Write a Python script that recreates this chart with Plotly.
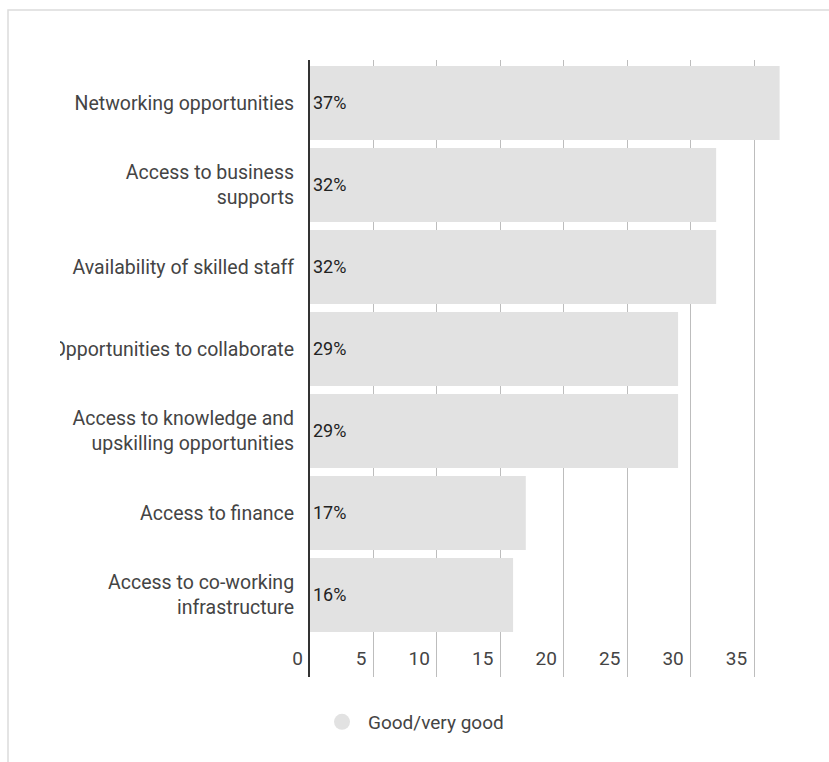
import plotly.graph_objects as go

# Share of respondents rating each factor as good / very good
categories = [
    "Networking opportunities",
    "Access to business<br>supports",
    "Availability of skilled staff",
    "Opportunities to collaborate",
    "Access to knowledge and<br>upskilling opportunities",
    "Access to finance",
    "Access to co-working<br>infrastructure",
]
values = [37, 32, 32, 29, 29, 17, 16]
value_labels = [f"{v}%" for v in values]
series_name = "Good/very good"
x_ticks = [0, 5, 10, 15, 20, 25, 30, 35]

BAR_COLOR = "#e2e2e2"
TEXT_COLOR = "#444444"

W, H = 829, 762
ML, MR, MT, MB = 310, 24, 60, 85
plot_w = W - ML - MR
plot_h = H - MT - MB


def px_x(p):
    return (p - ML) / plot_w


def px_y(p):
    return (H - MB - p) / plot_h


fig = go.Figure()

fig.add_trace(go.Bar(
    y=categories,
    x=values,
    orientation="h",
    marker=dict(color=BAR_COLOR, line=dict(width=0)),
    text=value_labels,
    textposition="inside",
    insidetextanchor="start",
    textfont=dict(family="Roboto", size=18, color="#222222"),
    showlegend=False,
    hoverinfo="skip",
))

# legend entry with a round swatch
fig.add_trace(go.Scatter(
    x=[None], y=[None], mode="markers", name=series_name,
    marker=dict(symbol="circle", size=24, color=BAR_COLOR),
    showlegend=True,
))

fig.update_layout(
    width=W, height=H,
    margin=dict(l=ML, r=MR, t=MT, b=MB),
    paper_bgcolor="white",
    plot_bgcolor="white",
    bargap=0.098,
    font=dict(family="Roboto", size=19, color=TEXT_COLOR),
    showlegend=True,
    legend=dict(
        orientation="h",
        x=px_x(316), xanchor="left",
        y=px_y(722), yanchor="middle",
        font=dict(family="Roboto", size=19, color=TEXT_COLOR),
        bgcolor="rgba(0,0,0,0)",
        itemsizing="trace",
        itemwidth=42,
    ),
    xaxis=dict(
        range=[0, 39],
        tickvals=x_ticks,
        ticktext=[str(t) for t in x_ticks],
        showgrid=True,
        gridcolor="#bdbdbd",
        gridwidth=1,
        zeroline=False,
        ticks="",
        ticklabelposition="inside left",
        ticklabeloverflow="allow",
        ticklabelshift=-7,
        ticklabelstandoff=2,
        tickfont=dict(family="Roboto", size=19, color=TEXT_COLOR),
        fixedrange=True,
    ),
    yaxis=dict(
        type="category",
        categoryorder="array",
        categoryarray=categories,
        range=[7.0, -0.524],
        showgrid=False,
        zeroline=False,
        showline=True,
        linecolor="#333333",
        linewidth=2,
        ticks="",
        ticklabelstandoff=10,
        tickfont=dict(family="Roboto", size=19.5, color=TEXT_COLOR),
        fixedrange=True,
    ),
    shapes=[
        # labels are clipped at the left edge of the chart area
        dict(type="rect", xref="paper", yref="paper",
             x0=px_x(-20), x1=px_x(60), y0=px_y(H + 20), y1=px_y(-20),
             fillcolor="white", line=dict(width=0), layer="above"),
        # outer frame
        dict(type="rect", xref="paper", yref="paper",
             x0=px_x(8), x1=px_x(W + 20), y0=px_y(H + 20), y1=px_y(10),
             fillcolor="rgba(0,0,0,0)", line=dict(color="#dcdcdc", width=1.5),
             layer="above"),
    ],
)

fig.write_html("out.html")
